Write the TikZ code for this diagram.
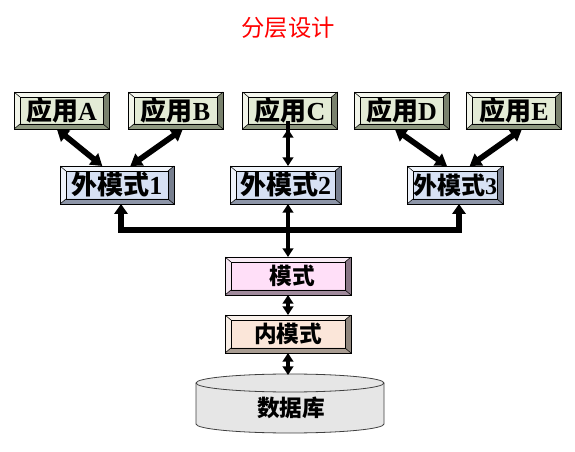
\documentclass[tikz,border=0pt]{standalone}
\usepackage{fontspec}
\usepackage{xcolor}
\usepackage{tikz}
\usetikzlibrary{arrows.meta}
\setmainfont{Liberation Serif}
\newfontfamily\cjk{Noto Sans CJK SC}
\newfontfamily\lat{Liberation Serif}

\definecolor{appface}{HTML}{E3EBD5}
\definecolor{applight}{HTML}{F2F5EA}
\definecolor{appdark}{HTML}{8E9880}
\definecolor{extface}{HTML}{D7E1F4}
\definecolor{extlight}{HTML}{EEF2FA}
\definecolor{extdark}{HTML}{8D95A8}
\definecolor{modface}{HTML}{FFDFF8}
\definecolor{modlight}{HTML}{F6E6F2}
\definecolor{moddark}{HTML}{A08A9C}
\definecolor{inface}{HTML}{FBE6D9}
\definecolor{inlight}{HTML}{F8EEE6}
\definecolor{indark}{HTML}{A89C92}
\definecolor{dbfill}{HTML}{E6E6E6}
\definecolor{dbline}{HTML}{404040}

\tikzset{
  bevelbox/.style n args={3}{draw=black,line width=0.5pt,fill=#1,inner sep=0pt,outer sep=0pt,
    path picture={
      \coordinate (bb-nw) at (path picture bounding box.north west);
      \coordinate (bb-ne) at (path picture bounding box.north east);
      \coordinate (bb-sw) at (path picture bounding box.south west);
      \coordinate (bb-se) at (path picture bounding box.south east);
      \coordinate (bb-inw) at ([shift={(4.5pt,-3.75pt)}]bb-nw);
      \coordinate (bb-ine) at ([shift={(-4.5pt,-3.75pt)}]bb-ne);
      \coordinate (bb-isw) at ([shift={(4.5pt,3.75pt)}]bb-sw);
      \coordinate (bb-ise) at ([shift={(-4.5pt,3.75pt)}]bb-se);
      \fill[#2!80!white] (bb-nw) -- (bb-ne) -- (bb-ine) -- (bb-inw) -- cycle;
      \fill[#2] (bb-nw) -- (bb-inw) -- (bb-isw) -- (bb-sw) -- cycle;
      \fill[#3] (bb-sw) -- (bb-isw) -- (bb-ise) -- (bb-se) -- cycle;
      \fill[#3!85!black] (bb-se) -- (bb-ise) -- (bb-ine) -- (bb-ne) -- cycle;
      \draw[line width=0.4pt] (bb-inw) rectangle (bb-ise);
      \draw[line width=0.4pt] (bb-nw) -- (bb-inw) (bb-ne) -- (bb-ine) (bb-sw) -- (bb-isw) (bb-se) -- (bb-ise);
    }},
  appbox/.style={bevelbox={appface}{applight}{appdark},minimum width=71.25pt,minimum height=27.75pt,
    font=\bfseries\fontsize{19.5}{21}\selectfont},
  extbox/.style={bevelbox={extface}{extlight}{extdark},minimum width=84pt,minimum height=28.5pt,
    font=\bfseries\fontsize{19.5}{21}\selectfont},
  modbox/.style={bevelbox={modface}{modlight}{moddark},minimum width=94.5pt,minimum height=28.5pt,
    font=\cjk\bfseries\fontsize{17}{19}\selectfont},
  inbox/.style={bevelbox={inface}{inlight}{indark},minimum width=94.5pt,minimum height=28.5pt,
    font=\cjk\bfseries\fontsize{17}{19}\selectfont},
  diag/.style={line width=4.3pt,{Triangle[length=8.5pt,width=10.5pt]}-{Triangle[length=8.5pt,width=10.5pt]}},
  vert/.style={line width=3pt,{Triangle[length=6.5pt,width=8pt]}-{Triangle[length=6.5pt,width=8pt]}},
  bus/.style={line width=4.5pt,{Triangle[length=7.5pt,width=10pt]}-{Triangle[length=7.5pt,width=10pt]}}
}

\begin{document}
\begin{tikzpicture}[x=0.75pt,y=-0.75pt,line join=miter]
  \useasboundingbox (0,0) rectangle (575,452);
  \node[font=\cjk\fontsize{17.5}{19}\selectfont,text=red] (title) at (288,28) {分层设计};
  \node[appbox] (appA) at (61.5,110.5) {\cjk 应用\lat A};
  \node[appbox] (appB) at (175.5,110.5) {\cjk 应用\lat B};
  \node[appbox] (appC) at (290,110.5) {\cjk 应用\lat C};
  \node[appbox] (appD) at (401.5,110.5) {\cjk 应用\lat D};
  \node[appbox] (appE) at (514,110.5) {\cjk 应用\lat E};
  \node[extbox,minimum width=85.5pt] (ext1) at (117,185) {\cjk 外模式\lat 1};
  \node[extbox,minimum width=83.25pt] (ext2) at (285.5,185) {\cjk 外模式\lat 2};
  \node[extbox,minimum width=72pt,font=\bfseries\fontsize{18}{20}\selectfont] (ext3) at (455,185) {\cjk 外模式\lat 3};
  \node[modbox] (mod) at (288,276) {\hspace*{6pt}模式};
  \node[inbox] (inmod) at (288,334) {内模式};
  \coordinate (busmid) at (288,230);
  \coordinate (dbtop) at (288,375);
  \filldraw[fill=dbfill,draw=dbline,line width=0.6pt] (196,383) -- (196,424)
    arc[start angle=180,end angle=360,x radius=70.5pt,y radius=6.75pt] -- (384,383)
    arc[start angle=0,end angle=180,x radius=70.5pt,y radius=6.75pt] -- cycle;
  \draw[dbline,line width=0.6pt] (196,383) arc[start angle=180,end angle=360,x radius=70.5pt,y radius=6.75pt];
  \node[font=\cjk\bfseries\fontsize{17}{19}\selectfont] (db) at (291,408) {数据库};
  \draw[diag] ([xshift=-3.5pt]appA.south) -- ([xshift=-11pt]ext1.north);
  \draw[diag] ([xshift=5.5pt]appB.south) -- ([xshift=10pt]ext1.north);
  \draw[diag] ([xshift=-5pt]appD.south) -- ([xshift=-6pt]ext3.north);
  \draw[diag] ([xshift=6pt]appE.south) -- ([xshift=11pt]ext3.north);
  \draw[vert] ([xshift=-1.5pt]appC.south) -- (appC.south -| busmid) -- (ext2.north -| busmid);
  \draw[bus] ([xshift=3pt]ext1.south) |- (busmid) -| ([xshift=3pt]ext3.south);
  \draw[vert] (ext2.south -| busmid) -- (mod.north);
  \draw[vert] (mod.south) -- (inmod.north);
  \draw[vert] (inmod.south) -- (dbtop);
\end{tikzpicture}
\end{document}
